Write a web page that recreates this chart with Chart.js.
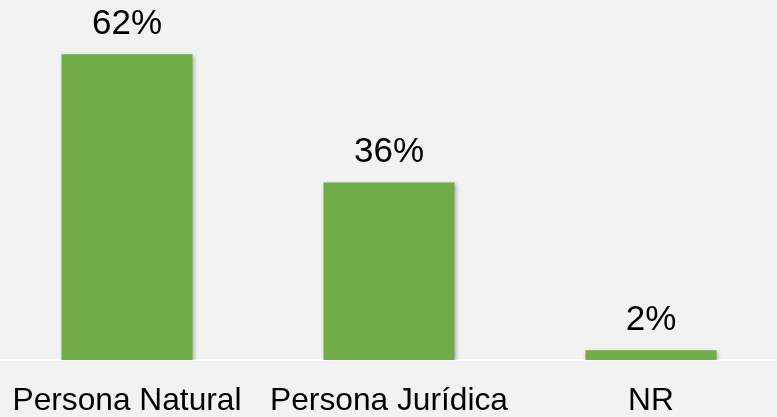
<!DOCTYPE html>
<html>
<head>
<meta charset="utf-8">
<script src="https://cdn.jsdelivr.net/npm/chart.js@4"></script>
<style>
  html, body { margin: 0; padding: 0; background: #f2f2f2; overflow: hidden; }
  /* plot area in the original runs a few px past both edges */
  canvas { display: block; margin-left: -4px; }
</style>
</head>
<body>
<canvas id="chart" width="786" height="417"></canvas>
<script>
"use strict";

const categories = ['Persona Natural', 'Persona Jurídica', 'NR'];
const shares = [62, 36, 2];

const barColor = '#70ad47';

// draws the "62%" style labels above each bar
const valueLabels = {
  id: 'valueLabels',
  afterDatasetsDraw(chart) {
    const ctx = chart.ctx;
    const meta = chart.getDatasetMeta(0);
    ctx.save();
    ctx.font = '35px "Liberation Sans", Arial, sans-serif';
    ctx.fillStyle = '#000';
    ctx.textAlign = 'center';
    ctx.textBaseline = 'alphabetic';
    meta.data.forEach((bar, i) => {
      ctx.fillText(shares[i] + '%', bar.x, bar.y - 20);
    });
    ctx.restore();
  }
};

// soft shadow under the bars
const barShadow = {
  id: 'barShadow',
  beforeDatasetsDraw(chart) {
    const ctx = chart.ctx;
    ctx.save();
    ctx.shadowColor = 'rgba(0,0,0,0.3)';
    ctx.shadowBlur = 4;
    ctx.shadowOffsetX = 1;
    ctx.shadowOffsetY = 2;
  },
  afterDatasetsDraw(chart) {
    chart.ctx.restore();
  }
};

new Chart(document.getElementById('chart'), {
  type: 'bar',
  data: {
    labels: categories,
    datasets: [{
      data: shares,
      backgroundColor: barColor,
      borderWidth: 0,
      barPercentage: 1,
      categoryPercentage: 0.5
    }]
  },
  options: {
    responsive: false,
    animation: false,
    layout: { padding: 0 },
    plugins: {
      legend: { display: false },
      tooltip: { enabled: false }
    },
    scales: {
      x: {
        grid: {
          display: true,
          drawOnChartArea: false,
          drawTicks: true,
          tickLength: 24,
          tickColor: 'rgba(0,0,0,0)'
        },
        border: { display: true, color: '#ffffff', width: 2 },
        ticks: {
          color: '#000',
          padding: 0,
          font: { family: '"Liberation Sans", Arial, sans-serif', size: 31.7, lineHeight: 1.1 }
        },
        afterFit(scale) {
          scale.height = 57;
        }
      },
      y: {
        display: false,
        min: 0,
        max: 73
      }
    }
  },
  plugins: [barShadow, valueLabels]
});
</script>
</body>
</html>
